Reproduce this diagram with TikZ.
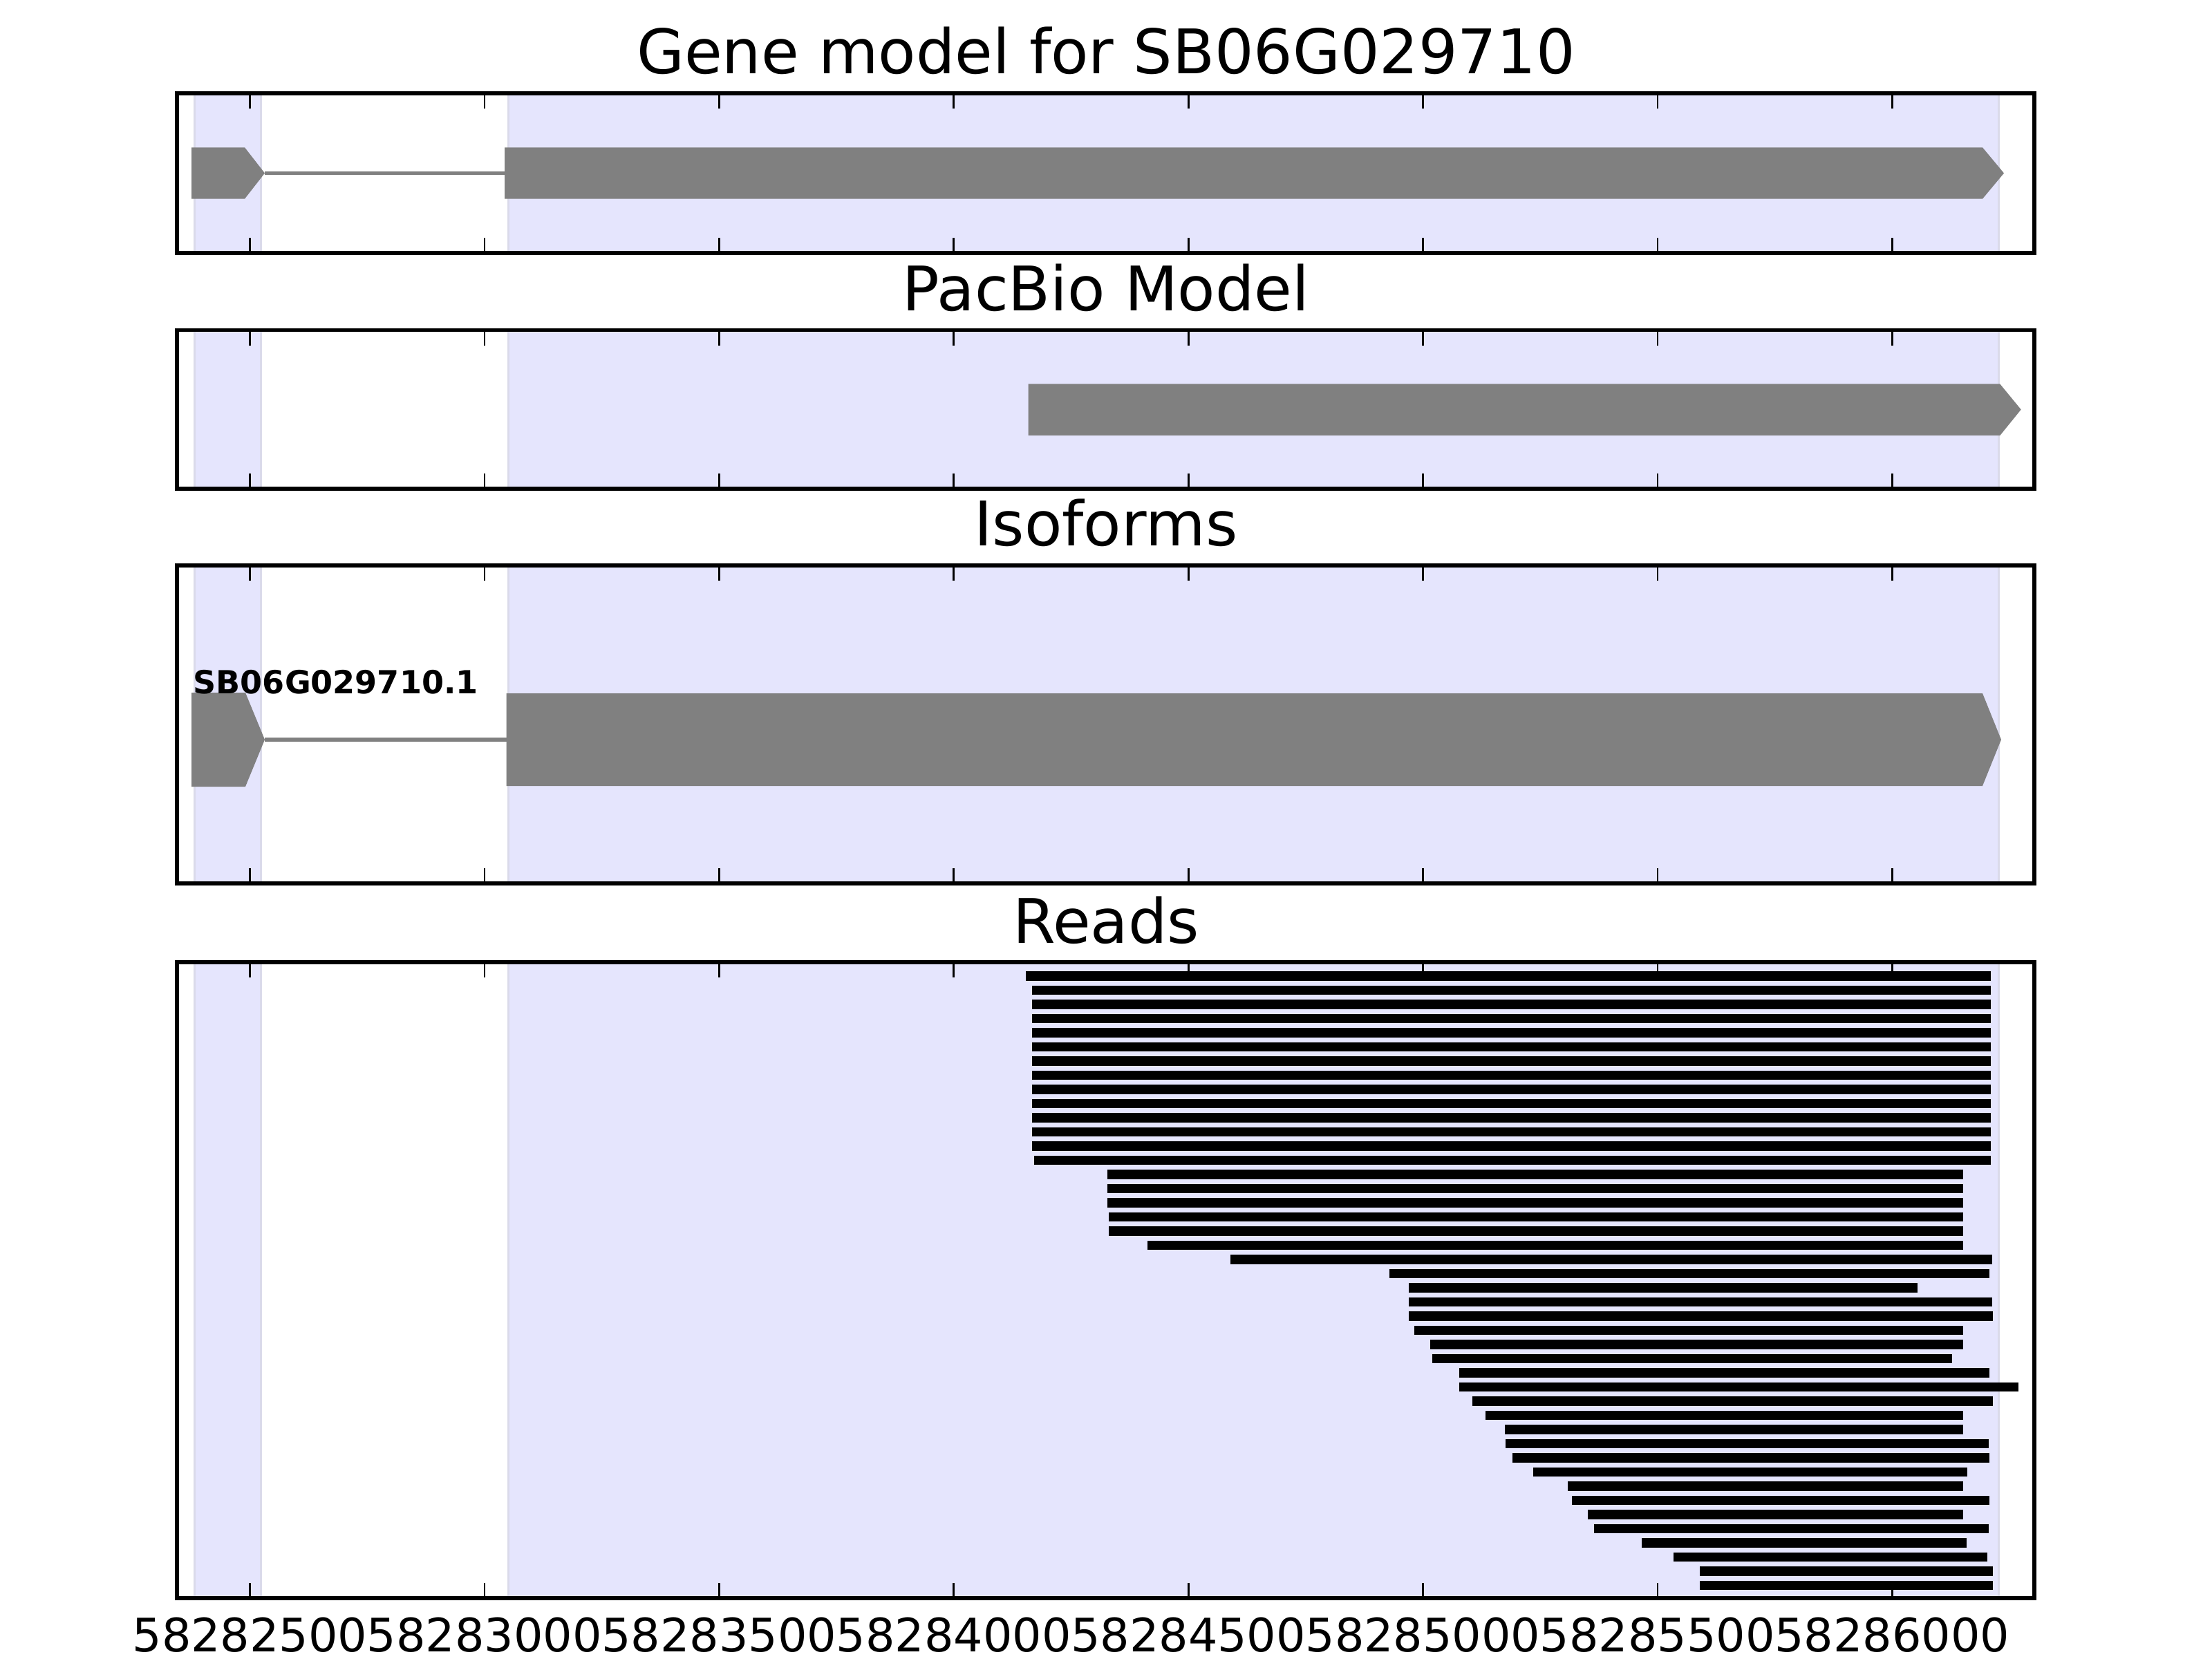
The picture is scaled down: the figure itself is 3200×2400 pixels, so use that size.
\documentclass[tikz,border=0pt]{standalone}
\usepackage{fontspec}
\setmainfont{DejaVu Sans}
\definecolor{exongrey}{HTML}{808080}
\definecolor{spanblue}{HTML}{E5E5FD}
\definecolor{spanedge}{HTML}{DADAEA}
\tikzset{
  panel/.style={draw=black, line width=1.58pt},
  span/.style={fill=spanblue, draw=spanedge, line width=0.8pt},
  exon/.style={fill=exongrey},
  intron/.style={draw=exongrey, line width=1.62pt},
  readbar/.style={draw=black, line width=3.78pt},
  tickmark/.style={draw=black, line width=0.79pt},
  paneltitle/.style={font=\fontsize{25.3}{30}\selectfont, anchor=base, inner sep=0pt},
  ticklabel/.style={font=\fontsize{19}{22}\selectfont, anchor=base, inner sep=0pt},
  isolabel/.style={font=\bfseries\fontsize{13.1}{15}\selectfont, anchor=base west, inner sep=0pt},
}

\begin{document}
\begin{tikzpicture}[x=0.1mm, y=-0.1mm]
  \useasboundingbox[fill=white] (0,0) rectangle (3200,2400);
  % shaded exon spans in every panel
  \foreach \top/\bot in {135/366, 477.6/707, 818/1278, 1392/2312} {
    \filldraw[span] (281.7,\top) rectangle (377.7,\bot);
    \filldraw[span] (735.7,\top) rectangle (2891.7,\bot);
  }
  % gene model
  \fill[exon] (277.2,213.3) -- (354,213.3) -- (383,250.5) -- (354,287.7) -- (277.2,287.7) -- cycle;
  \draw[intron] (383,250.5) -- (730,250.5);
  \fill[exon] (730,213.3) -- (2868,213.3) -- (2899,250.5) -- (2868,287.7) -- (730,287.7) -- cycle;
  % pacbio model
  \fill[exon] (1487.7,555.5) -- (2893.3,555.5) -- (2923.7,592.5) -- (2893.3,630) -- (1487.7,630) -- cycle;
  % isoform
  \fill[exon] (277,1002) -- (355,1002) -- (383,1070) -- (355,1138) -- (277,1138) -- cycle;
  \draw[intron] (383,1070) -- (732.6,1070);
  \fill[exon] (732.6,1003) -- (2868,1003) -- (2895,1070) -- (2868,1137) -- (732.6,1137) -- cycle;
  \node[isolabel] (isoname) at (279,1003) {SB06G029710.1};
  % reads
  \foreach \l/\r [count=\i] in {1484/2880, 1493/2880, 1493/2880, 1493/2880, 1493/2880,
      1493/2880, 1493/2880, 1493/2880, 1493/2880, 1493/2880, 1493/2880, 1493/2880,
      1493/2880, 1496/2880, 1602/2840, 1602/2840, 1602/2840, 1604/2840, 1604/2840,
      1660/2840, 1780/2882, 2010/2878, 2038/2774, 2038/2882, 2038/2883, 2046/2840,
      2069/2840, 2072/2824, 2111/2878, 2111/2920, 2130/2883, 2149/2840, 2177/2840,
      2178/2877, 2188/2878, 2218/2846, 2268/2840, 2274/2878, 2297/2840, 2306/2877,
      2375/2845, 2421/2875, 2459/2883, 2459/2883}
    \draw[readbar] (\l,{1412+20.5*(\i-1)}) -- (\r,{1412+20.5*(\i-1)});
  % frames, ticks and titles
  \foreach \top/\bot/\ttl [count=\p] in {135/366/Gene model for SB06G029710,
      477.6/707/PacBio Model, 818/1278/Isoforms, 1392/2312/Reads} {
    \foreach \k in {0,...,7} {
      \draw[tickmark] ({361.5+339.4*\k},\top) -- ++(0,22);
      \draw[tickmark] ({361.5+339.4*\k},\bot) -- ++(0,-22);
    }
    \draw[panel] (256,\top) rectangle (2943,\bot);
    \node[paneltitle] (title\p) at (1600,\top-28) {\ttl};
  }
  % x axis labels
  \foreach \v [count=\k from 0] in {58282500, 58283000, 58283500, 58284000,
      58284500, 58285000, 58285500, 58286000}
    \node[ticklabel] (tick\k) at ({361.5+339.4*\k},2389) {\v};
\end{tikzpicture}
\end{document}
